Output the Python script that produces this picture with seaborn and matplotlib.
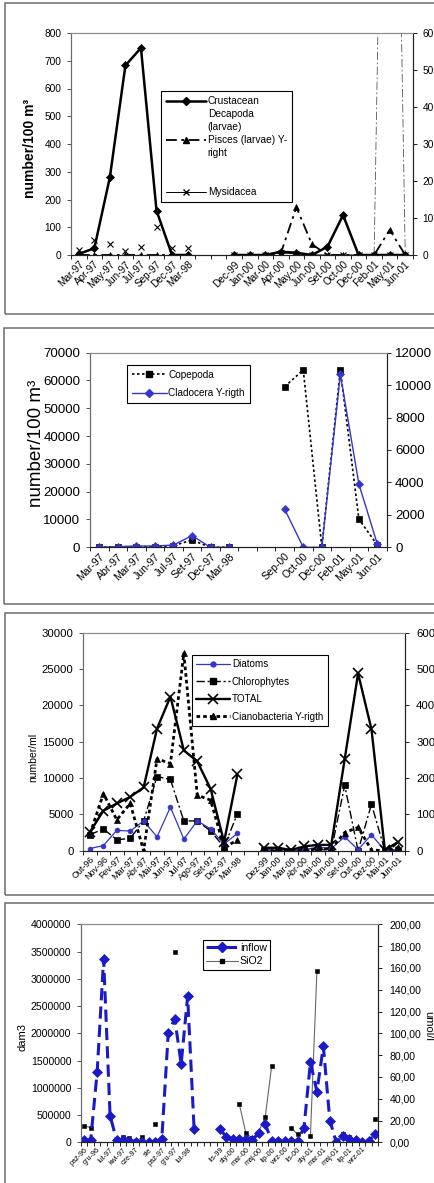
import numpy as np
import pandas as pd
import seaborn as sns
import matplotlib.pyplot as plt
from matplotlib.lines import Line2D
from matplotlib.patches import Rectangle
from matplotlib.ticker import FuncFormatter

nan = np.nan

# panel 1 - larvae (number/100 m3)
cats1 = ['Mar-97', 'Apr-97', 'May-97', 'Jun-97', 'Jul-97', 'Sep-97', 'Dec-97', 'Mar-98', '', '',
         'Dec-99', 'Jan-00', 'Mar-00', 'Apr-00', 'May-00', 'Jun-00', 'Set-00', 'Oct-00', 'Dec-00',
         'Feb-01', 'May-01', 'Jun-01']
decapoda = [4, 24, 280, 683, 746, 160, 0, 0, nan, nan, 0, 0, 0, 12, 8, 0, 30, 144, 0, 0, 0, 0]
pisces = [0, 0, 0, 0, 0, 0, 0, 0, nan, nan, 0, 0, 0, 0.5, 12.9, 2.9, 0, 0, 0, 0, 6.8, 0]
pisces_extra = [nan] * 19 + [0, 250, 0]
mysidacea = [18, 54, 38, 16, 30, 100, 24, 24, nan, nan, 0, 0, 0, 8, 5, 0, 0, 0, 0, 0, 0, 0]

# panel 2 - copepoda / cladocera
cats2 = ['Mar-97', 'Abr-97', 'Mar-97', 'Jun-97', 'Jul-97', 'Set-97', 'Dec-97', 'Mar-98', '', '',
         'Sep-00', 'Oct-00', 'Dec-00', 'Feb-01', 'May-01', 'Jun-01']
copepoda = [0, 200, 200, 200, 600, 2600, 0, 0, nan, nan, 57800, 63800, 200, 63800, 10100, 800]
cladocera = [0, 40, 80, 80, 140, 720, 0, 0, nan, nan, 2340, 0, 0, 10660, 3900, 180]

# panel 3 - phytoplankton (number/ml)
cats3 = ['Out-96', 'Nov-96', 'Fev-97', 'Mar-97', 'Abr-97', 'Mai-97', 'Jun-97', 'Jul-97', 'Ago-97',
         'Set-97', 'Dez-97', 'Mar-98', '', 'Dez-99', 'Jan-00', 'Mar-00', 'Abr-00', 'Mai-00',
         'Jun-00', 'Set-00', 'Out-00', 'Dez-00', 'Mai-01', 'Jun-01']
diatoms = [300, 700, 2800, 2700, 4100, 1900, 6000, 1600, 4100, 3000, 900, 2400, nan,
           50, 50, 0, 150, 500, 300, 1900, 150, 2200, 0, 200]
chlorophytes = [2200, 3000, 1500, 1700, 4100, 10200, 9800, 4100, 4100, 2700, 500, 5100, nan,
                100, 100, 0, 100, 200, 0, 9000, 0, 6400, 0, 100]
total = [2600, 5500, 6500, 7400, 8700, 16800, 21200, 13800, 12300, 8500, 1200, 10500, nan,
         400, 400, 100, 600, 800, 800, 12600, 24400, 16700, 100, 1200]
cianobacteria = [46, 157, 85, 130, 0, 253, 240, 543, 153, 139, 9, 29, nan,
                 0, 0, 0, 0, 5, 5, 50, 64, 2, 0, 9]

# panel 4 - inflow (dam3) and SiO2 (umol/l), monthly
cats4 = ['paź-96', '', 'gru-96', '', 'lut-97', '', 'kwi-97', '', 'cze-97', '', 'sie', '',
         'paź-97', '', 'gru-97', '', 'lut-98', '', '', '', '',
         'lis-99', '', 'sty-00', '', 'mar-00', '', 'maj-00', '', 'lip-00', '', 'wrz-00', '',
         'lis-00', '', 'sty-01', '', 'mar-01', '', 'maj-01', '', 'lip-01', '', 'wrz-01', '', '']
inflow = [40000, 40000, 1290000, 3360000, 490000, 40000, 40000, 30000, 10000, 10000, 0, 0,
          60000, 2000000, 2270000, 1440000, 2680000, 240000,
          nan, nan, nan,
          240000, 100000, 60000, 60000, 60000, 40000, 165000, 340000, 20000, 20000, 20000,
          20000, 20000, 270000, 1470000, 930000, 1760000, 400000, 0, 120000, 60000, 40000,
          10000, 20000, 150000]
sio2 = [15, 13.5, nan, nan, nan, nan, 5.2, 3.7, 1.2, 4.6, nan, 16.5, nan, nan, 175, nan, nan, nan,
        nan, nan, nan,
        nan, nan, nan, 35, 8.5, 3.7, 9.8, 23, 70, nan, nan, 13.5, 7.3, nan, 5.8, 157, nan, nan,
        nan, 7.3, 4.8, nan, nan, nan, 21]

W, H = 435, 1183
BLUE = '#3535cc'
DBLUE = '#1a1ac8'

sns.set_theme(style='white')
plt.rcParams['font.family'] = ['Liberation Sans', 'DejaVu Sans']

fig = plt.figure(figsize=(W / 100, H / 100), dpi=100)


def box(x0, y0, x1, y1):
    return [x0 / W, 1 - y1 / H, (x1 - x0) / W, (y1 - y0) / H]


def frame(x0, y0, x1, y1):
    fig.add_artist(Rectangle((x0 / W, 1 - y1 / H), (x1 - x0) / W, (y1 - y0) / H,
                             transform=fig.transFigure, fill=False, edgecolor='#6b6b6b', lw=1.1))


def draw(ax, vals, **kw):
    d = pd.DataFrame({'pos': np.arange(len(vals)), 'val': vals})
    d['seg'] = d['val'].isna().cumsum()
    d = d.dropna()
    sns.lineplot(data=d, x='pos', y='val', units='seg', estimator=None, sort=False,
                 ax=ax, legend=False, **kw)


def setup(ax, axr, cats, ylim, ystep, rlim, rstep, fy, fx, fr, lpad, rpad, rfmt=None):
    n = len(cats)
    ax.set_xlim(-0.5, n - 0.5)
    ax.set_ylim(0, ylim)
    axr.set_ylim(0, rlim)
    ax.set_yticks(np.arange(0, ylim + 1, ystep))
    axr.set_yticks(np.arange(0, rlim + 1, rstep))
    ax.yaxis.set_major_formatter(FuncFormatter(lambda v, p: f'{v:.0f}'))
    ax.set_xticks(np.arange(n))
    ax.set_xticklabels(cats, rotation=45, ha='right', va='top', rotation_mode='anchor', fontsize=fx)
    ax.set_xticks(np.arange(-0.5, n), minor=True)
    ax.tick_params(axis='x', which='major', bottom=True, length=0, pad=3, labelcolor='black')
    ax.tick_params(axis='x', which='minor', bottom=True, length=3, width=0.7, color='#222')
    ax.tick_params(axis='y', left=True, length=3, width=0.7, color='#555', labelsize=fy,
                   pad=lpad, labelcolor='black')
    axr.tick_params(axis='y', right=True, length=3, width=0.7, color='#222', labelsize=fr,
                    pad=rpad, labelcolor='black')
    if rfmt is not None:
        axr.yaxis.set_major_formatter(rfmt)
    for a in (ax, axr):
        a.set_xlabel('')
        a.set_ylabel('')
        a.spines['top'].set_color('#8c8c8c')
        a.spines['left'].set_color('#6a6a6a')
        a.spines['right'].set_color('#222')
        a.spines['bottom'].set_color('#222')
        for s in a.spines.values():
            s.set_linewidth(0.8)


def legend(ax, handles, labels, x0, y0, fs, hl, ls, bp=0.4):
    leg = ax.legend(handles, labels, loc='upper left', bbox_to_anchor=(x0 / W, 1 - y0 / H),
                    bbox_transform=fig.transFigure, borderaxespad=0, frameon=True, fancybox=False,
                    edgecolor='black', framealpha=1, fontsize=fs, handlelength=hl,
                    labelspacing=ls, borderpad=bp, handletextpad=0.2)
    leg.get_frame().set_linewidth(0.8)
    for t in leg.get_texts():
        t.set_color('black')


blank = Line2D([], [], linestyle='none')

# ---------------- panel 1
frame(5, 3, 445, 314)
ax1 = fig.add_axes(box(71, 33, 413, 255))
ax1r = ax1.twinx()
draw(ax1, decapoda, color='black', lw=1.8, marker='D', markersize=4.5,
     markeredgecolor='black', markeredgewidth=0.5)
draw(ax1, mysidacea, color='black', linestyle='none', marker='x', markersize=4,
     markeredgecolor='black', markeredgewidth=0.8)
mys_line = np.where(np.arange(len(mysidacea)) >= 10, mysidacea, nan)
draw(ax1, mys_line, color='black', lw=0.7)
draw(ax1r, pisces_extra, color='#555555', lw=0.6, linestyle=(0, (10, 3, 2, 3)))
draw(ax1r, pisces, color='black', lw=1.3, linestyle=(0, (6, 2.5, 1.5, 2.5)), marker='^',
     markersize=4.5, markeredgecolor='black', markeredgewidth=0.5)
setup(ax1, ax1r, cats1, 800, 100, 60, 10, 7.3, 7.2, 7.3, 4, 4)
legend(ax1r,
       [Line2D([], [], color='black', lw=1.8, marker='D', ms=4.5), blank, blank,
        Line2D([], [], color='black', lw=1.3, linestyle=(0, (6, 2.5, 1.5, 2.5)), marker='^', ms=4.5),
        blank, blank, blank,
        Line2D([], [], color='black', lw=0.7, marker='x', ms=4)],
       ['Crustacean', 'Decapoda', '(larvae)', 'Pisces (larvae) Y-', 'right', '', '', 'Mysidacea'],
       161, 91, 7.3, 3.9, 0.3, bp=0.5)
fig.text(30 / W, 1 - 148 / H, 'number/100 m³', rotation=90, ha='center', va='center',
         fontsize=10, fontweight='bold', color='black')

# ---------------- panel 2
frame(4, 328, 445, 604)
ax2 = fig.add_axes(box(90, 352.7, 386.7, 547.3))
ax2r = ax2.twinx()
draw(ax2, copepoda, color='black', lw=1.2, linestyle=(0, (1.5, 1.5)), marker='s', markersize=4,
     markeredgecolor='black', markeredgewidth=0.5)
draw(ax2r, cladocera, color=BLUE, lw=1.0, marker='D', markersize=3.8,
     markeredgecolor=BLUE, markeredgewidth=0.5)
setup(ax2, ax2r, cats2, 70000, 10000, 12000, 2000, 9.6, 7.6, 9.6, 4, 3)
legend(ax2r,
       [Line2D([], [], color='black', lw=1.2, linestyle=(0, (1.5, 1.5)), marker='s', ms=4),
        Line2D([], [], color=BLUE, lw=1.0, marker='D', ms=3.8)],
       ['Copepoda', 'Cladocera Y-rigth'], 127, 365, 7.2, 3.5, 0.9, bp=0.45)
fig.text(37 / W, 1 - 443 / H, 'number/100 m³', rotation=90, ha='center', va='center',
         fontsize=13.5, color='black')

# ---------------- panel 3
frame(5, 613, 445, 895)
ax3 = fig.add_axes(box(83.3, 632.7, 405, 850.7))
ax3r = ax3.twinx()
draw(ax3, chlorophytes, color='black', lw=1.0, linestyle=(0, (6, 2, 1.5, 2)), marker='s',
     markersize=4, markeredgecolor='black', markeredgewidth=0.5)
draw(ax3, diatoms, color=BLUE, lw=0.9, marker='o', markersize=3.5,
     markeredgecolor=BLUE, markeredgewidth=0.5)
draw(ax3, total, color='black', lw=1.7, marker='x', markersize=7.5,
     markeredgecolor='black', markeredgewidth=1.2)
draw(ax3r, cianobacteria, color='black', lw=2.0, linestyle=(0, (1.3, 1.1)), marker='^',
     markersize=4, markeredgecolor='black', markeredgewidth=0.5)
setup(ax3, ax3r, cats3, 30000, 5000, 600, 100, 8.2, 6.4, 8.2, 4, 5)
legend(ax3r,
       [Line2D([], [], color=BLUE, lw=0.9, marker='o', ms=3.5),
        Line2D([], [], color='black', lw=1.0, linestyle=(0, (6, 2, 1.5, 2)), marker='s', ms=4),
        Line2D([], [], color='black', lw=1.7, marker='x', ms=7.5, mew=1.2),
        Line2D([], [], color='black', lw=2.0, linestyle=(0, (1.3, 1.1)), marker='^', ms=4)],
       ['Diatoms', 'Chlorophytes', 'TOTAL', 'Cianobacteria Y-rigth'], 192, 655, 7.1, 3.4, 0.75,
       bp=0.45)
fig.text(33 / W, 1 - 757 / H, 'number/ml', rotation=90, ha='center', va='center',
         fontsize=7.5, color='black')

# ---------------- panel 4
frame(5, 903, 445, 1195)
ax4 = fig.add_axes(box(81, 924.3, 378.3, 1142.3))
ax4r = ax4.twinx()
draw(ax4r, sio2, color='#666666', lw=0.8, marker='s', markersize=3.3,
     markeredgecolor='black', markerfacecolor='black', markeredgewidth=0.4)
draw(ax4, inflow, color=DBLUE, lw=2.2, linestyle=(0, (4, 2)), marker='D', markersize=5.5,
     markeredgecolor=DBLUE, markeredgewidth=0.5)
ax4.set_zorder(ax4r.get_zorder() + 1)
ax4.patch.set_visible(False)
ax4r.patch.set_visible(True)
ax4r.patch.set_facecolor('white')
setup(ax4, ax4r, cats4, 4000000, 500000, 200, 20, 7.6, 5.2, 7.6, 4, 5,
      rfmt=FuncFormatter(lambda v, p: f'{v:.2f}'.replace('.', ',')))
legend(ax4,
       [Line2D([], [], color=DBLUE, lw=2.2, linestyle=(0, (4, 2)), marker='D', ms=5.5),
        Line2D([], [], color='#666666', lw=0.8, marker='s', ms=3.3, mfc='black', mec='black')],
       ['inflow', 'SiO2'], 203, 940, 7.6, 3.0, 0.3, bp=0.3)
fig.text(23 / W, 1 - 1037 / H, 'dam3', rotation=90, ha='center', va='center',
         fontsize=8, color='black')
fig.text(428 / W, 1 - 1026 / H, 'umol/l', rotation=270, ha='center', va='center',
         fontsize=8, color='black')

fig.savefig('out.png', dpi=100)
